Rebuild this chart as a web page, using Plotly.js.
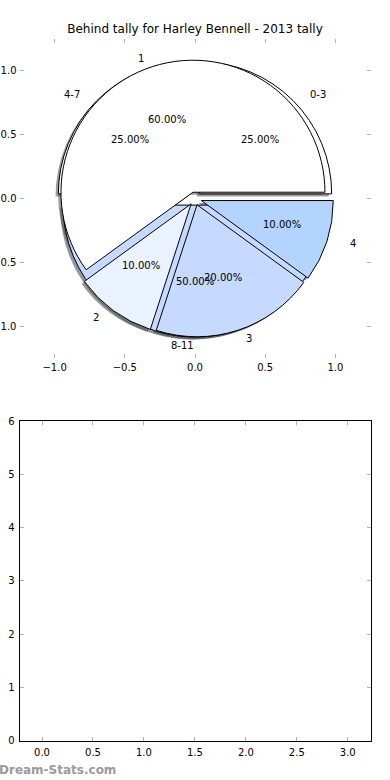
<!DOCTYPE html>
<html><head><meta charset="utf-8">
<script src="https://cdn.plot.ly/plotly-3.0.1.min.js"></script>
<style>html,body{margin:0;padding:0;background:#fff}#chart{width:390px;height:780px}</style>
</head><body><div id="chart"></div>
<script>
// ---- data ----
const chartTitle = 'Behind tally for Harley Bennell - 2013 tally';
const outerLabels = ['1', '2', '3', '4'];
const outerValues = [60, 10, 20, 10];
const outerColors = ['#ffffff', '#ebf2ff', '#c6d9ff', '#b3d4ff'];
const innerLabels = ['0-3', '4-7', '8-11'];
const innerValues = [25, 25, 50];
const innerColors = ['#ffffff', '#ffffff', '#c6d9ff'];
const pieTicks = [-1, -0.5, 0, 0.5, 1];
const lowerXTicks = [0, 0.5, 1, 1.5, 2, 2.5, 3];
const lowerYTicks = [0, 1, 2, 3, 4, 5, 6];
const watermark = 'Dream-Stats.com';

// ---- layout constants ----
const W = 390, H = 780;
const axL = 19.5, axR = 370.5;
const topT = 39, topB = 358;
const botT = 421, botB = 740.5;
const explode = 0.05;
const R = 132;            // pie radius px
const cx = 195, cy = 198.5;
const shadowDx = -2.8, shadowDy = 2.55;
const FONT = 'DejaVu Sans, sans-serif';

function pieDomain(dx, dy) {
  const h = R * (1 + explode);
  return {
    x: [(cx + dx - h) / W, (cx + dx + h) / W],
    y: [1 - (cy + dy + h) / H, 1 - (cy + dy - h) / H]
  };
}
function shade(hex) {
  const r = parseInt(hex.slice(1, 3), 16), g = parseInt(hex.slice(3, 5), 16), b = parseInt(hex.slice(5, 7), 16);
  return `rgba(${Math.round(r * 0.3)},${Math.round(g * 0.3)},${Math.round(b * 0.3)},0.55)`;
}
// matplotlib starts the first wedge at 3 o'clock going counter-clockwise;
// plotly (counterclockwise) puts the first slice clockwise of `rotation`
function startRotation(values) {
  const total = values.reduce((a, b) => a + b, 0);
  return 90 - 360 * values[0] / total;
}
function pieTrace(labels, values, colors, dom, isShadow) {
  return {
    type: 'pie', labels: labels, values: values, sort: false,
    direction: 'counterclockwise', rotation: startRotation(values),
    pull: values.map(() => explode),
    marker: {
      colors: isShadow ? colors.map(shade) : colors,
      line: { color: isShadow ? 'rgba(0,0,0,0)' : '#000000', width: isShadow ? 0 : 1 }
    },
    textinfo: 'none', hoverinfo: 'skip', showlegend: false,
    domain: dom
  };
}

const mainDom = pieDomain(0, 0);
const shDom = pieDomain(shadowDx, shadowDy);
const data = [
  pieTrace(innerLabels.map(l => l + ' '), innerValues, innerColors, shDom, true),
  pieTrace(outerLabels.map(l => l + ' '), outerValues, outerColors, shDom, true),
  pieTrace(innerLabels, innerValues, innerColors, mainDom, false),
  pieTrace(outerLabels, outerValues, outerColors, mainDom, false),
  { type: 'scatter', x: [], y: [], xaxis: 'x2', yaxis: 'y2', showlegend: false, hoverinfo: 'skip' }
];

// label / percentage positions computed from the values (matplotlib pie geometry)
const annotations = [];
function addPieText(labels, values) {
  const total = values.reduce((a, b) => a + b, 0);
  let t1 = 0;
  values.forEach((v, i) => {
    const t2 = t1 + v / total;
    const thm = 2 * Math.PI * (t1 + t2) / 2;
    const ox = explode * Math.cos(thm), oy = explode * Math.sin(thm);
    const lx = ox + 1.1 * Math.cos(thm), ly = oy + 1.1 * Math.sin(thm);
    annotations.push({
      xref: 'x', yref: 'y', x: lx, y: ly, text: labels[i], showarrow: false,
      xanchor: lx > 0 ? 'left' : 'right', yanchor: 'middle',
      font: { family: FONT, size: 10, color: '#000' }, borderpad: 0
    });
    const px = ox + 0.6 * Math.cos(thm), py = oy + 0.6 * Math.sin(thm);
    annotations.push({
      xref: 'x', yref: 'y', x: px, y: py, text: (v / total * 100).toFixed(2) + '%', showarrow: false,
      xanchor: 'center', yanchor: 'middle',
      font: { family: FONT, size: 10, color: '#000' }, borderpad: 0
    });
    t1 = t2;
  });
}
addPieText(outerLabels, outerValues);
addPieText(innerLabels, innerValues);

annotations.push({
  xref: 'paper', yref: 'paper', x: 0, y: 1 - 770 / H, xanchor: 'left', yanchor: 'middle',
  text: '<b>' + watermark + '</b>', showarrow: false, xshift: -2, borderpad: 0,
  font: { family: FONT, size: 12, color: '#9a9a9a' }
});

const tickCommon = {
  ticks: 'inside', ticklen: 4, tickwidth: 1, tickcolor: '#b0b0b0',
  mirror: 'ticks', showgrid: false, zeroline: false, fixedrange: true,
  tickfont: { family: FONT, size: 10, color: '#000' }, ticklabelstandoff: 2
};

const layout = {
  width: W, height: H, margin: { l: 0, r: 0, t: 0, b: 0 },
  paper_bgcolor: '#fff', plot_bgcolor: 'rgba(0,0,0,0)', showlegend: false,
  title: { text: chartTitle, x: 0.5, xanchor: 'center', y: 1 - 29 / H, yanchor: 'middle',
           font: { family: FONT, size: 12, color: '#000' } },
  xaxis: Object.assign({}, tickCommon, {
    domain: [axL / W, axR / W], anchor: 'y', range: [-1.25, 1.25],
    tickvals: pieTicks, tickformat: '.1f', showline: false
  }),
  yaxis: Object.assign({}, tickCommon, {
    domain: [1 - topB / H, 1 - topT / H], anchor: 'x', range: [-1.25, 1.25],
    tickvals: pieTicks, tickformat: '.1f', showline: false
  }),
  xaxis2: Object.assign({}, tickCommon, {
    domain: [axL / W, axR / W], anchor: 'y2', range: [-0.221, 3.223],
    tickvals: lowerXTicks, tickformat: '.1f', showline: true, linecolor: '#000', linewidth: 1
  }),
  yaxis2: Object.assign({}, tickCommon, {
    domain: [1 - botB / H, 1 - botT / H], anchor: 'x2', range: [0, 6],
    tickvals: lowerYTicks, tickformat: 'd', showline: true, linecolor: '#000', linewidth: 1
  }),
  annotations: annotations
};

Plotly.newPlot('chart', data, layout, { displayModeBar: false, staticPlot: true });
</script>
</body></html>
